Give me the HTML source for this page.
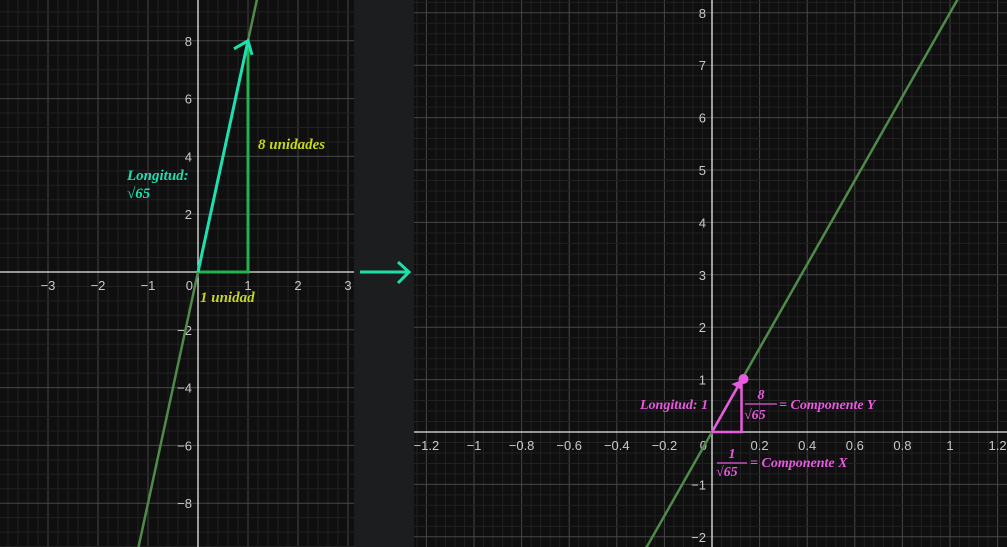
<!DOCTYPE html>
<html><head><meta charset="utf-8"><style>
html,body{margin:0;padding:0;background:#1c1d1f;overflow:hidden;width:1007px;height:547px}
svg{display:block;position:absolute;left:0;top:0}
text{font-family:"Liberation Sans",sans-serif}
.ser{font-family:"Liberation Serif",serif;font-style:italic;font-weight:bold}
</style></head><body>
<svg id="s" width="1007" height="547">
<rect x="0" y="0" width="1007" height="547" fill="#1c1d1f"/>
<g id="L"></g>
<g id="R"></g>
<g>
<line x1="360" y1="272" x2="409" y2="272" stroke="#1de0a8" stroke-width="3"/>
<polyline points="398,262 409,272 398,283" fill="none" stroke="#1de0a8" stroke-width="3"/>
</g>
</svg>
<script>
// left graph data
const leftXTicks=[-3,-2,-1,1,2,3];
const leftYTicks=[-8,-6,-4,-2,2,4,6,8];
const leftSlope=[8];
const leftVector=[1,8];
// right graph data
const rightXTicks=[-1.2,-1,-0.8,-0.6,-0.4,-0.2,0.2,0.4,0.6,0.8,1,1.2];
const rightYTicks=[-2,-1,1,2,3,4,5,6,7,8];
const rightSlope=[8];
const rightVector=[1/Math.sqrt(65),8/Math.sqrt(65)];

const NS="http://www.w3.org/2000/svg";
function mk(p,t,a,txt){const e=document.createElementNS(NS,t);for(const k in a)e.setAttribute(k,a[k]);if(txt!==undefined)e.textContent=txt;p.appendChild(e);return e;}
function fmt(v){return (v<0?'\u2212':'')+String(Math.abs(+v.toFixed(2)));}

function graph(g,x0,x1,ox,oy,ux,uy,xmaj,ymaj,xsub,ysub,xt,yt,slope){
  mk(g,'rect',{x:x0,y:0,width:x1-x0,height:547,fill:'#0f0f0f'});
  const X=v=>ox+v*ux, Y=v=>oy-v*uy;
  const xmin=(x0-ox)/ux,xmax=(x1-ox)/ux,ymin=-(547-oy)/uy,ymax=oy/uy;
  for(let k=Math.ceil(xmin/xmaj*xsub);k<=xmax/xmaj*xsub;k++){const x=X(k*xmaj/xsub);const maj=k%xsub===0;
    mk(g,'line',{x1:x,x2:x,y1:0,y2:547,stroke:maj?'#464646':'#212121','stroke-width':1});}
  for(let k=Math.ceil(ymin/ymaj*ysub);k<=ymax/ymaj*ysub;k++){const y=Y(k*ymaj/ysub);const maj=k%ysub===0;
    mk(g,'line',{x1:x0,x2:x1,y1:y,y2:y,stroke:maj?'#464646':'#212121','stroke-width':1});}
  mk(g,'line',{x1:x0,x2:x1,y1:oy,y2:oy,stroke:'#e8e8e8','stroke-width':1.3});
  mk(g,'line',{x1:ox,x2:ox,y1:0,y2:547,stroke:'#e8e8e8','stroke-width':1.3});
  xt.forEach(v=>{const t=mk(g,'text',{x:X(v),y:oy+18,'font-size':13,fill:'#c8c8c8','text-anchor':'middle'},fmt(v));
    
    });
  yt.forEach(v=>{const t=mk(g,'text',{x:ox-6,y:Y(v)+5,'font-size':13,fill:'#c8c8c8','text-anchor':'end'},fmt(v));
    
    });
  mk(g,'text',{x:ox-5,y:oy+18,'font-size':13,fill:'#c8c8c8','text-anchor':'end'},'0');
  const ya=ymax+1,yb=ymin-1;
  const ln=mk(g,'line',{x1:X(yb/slope[0]),y1:Y(yb),x2:X(ya/slope[0]),y2:Y(ya),stroke:'#4f8a4a','stroke-width':2.5});
  
  
  return {X,Y};
}
const L=document.getElementById('L'),R=document.getElementById('R');
const a=graph(L,0,354,198,272,50,28.9,1,2,5,4,leftXTicks,leftYTicks,leftSlope);
const vx=a.X(leftVector[0]),vy=a.Y(leftVector[1]),O=[a.X(0),a.Y(0)];
mk(L,'polyline',{points:`${O[0]},${O[1]} ${vx},${O[1]} ${vx},${vy}`,fill:'none',stroke:'#22b24c','stroke-width':3});
let v=mk(L,'line',{x1:O[0],y1:O[1],x2:vx,y2:vy,stroke:'#1de0b0','stroke-width':3});


mk(L,'polyline',{points:`${vx-14},${vy+8} ${vx},${vy} ${vx+4},${vy+14}`,fill:'none',stroke:'#1de0b0','stroke-width':3});
mk(L,'text',{x:258,y:149,'font-size':15,fill:'#c8d81a',class:'ser','font-weight':'normal'},'8 unidades');
mk(L,'text',{x:200,y:302,'font-size':15,fill:'#c8d81a',class:'ser','font-weight':'normal'},'1 unidad');
mk(L,'text',{x:127,y:180,'font-size':15,fill:'#1de0b0',class:'ser'},'Longitud:');
mk(L,'text',{x:127,y:198,'font-size':15,fill:'#1de0b0',class:'ser'},'\u221A65');

const b=graph(R,414,1007,712,432,238,52.4,0.2,1,5,5,rightXTicks,rightYTicks,rightSlope);
const wx=b.X(rightVector[0]),wy=b.Y(rightVector[1]),P=[b.X(0),b.Y(0)];
mk(R,'polyline',{points:`${P[0]},${P[1]} ${wx},${P[1]} ${wx},${wy}`,fill:'none',stroke:'#e85ae0','stroke-width':2.5});
v=mk(R,'line',{x1:P[0],y1:P[1],x2:wx,y2:wy,stroke:'#e85ae0','stroke-width':2.5});


mk(R,'polygon',{points:`${wx},${wy} ${wx-10},${wy+4} ${wx},${wy+10}`,fill:'#e85ae0'});
mk(R,'circle',{cx:wx+2,cy:wy-1,r:5,fill:'#e85ae0'});
const pk='#e85ae0';
mk(R,'text',{x:640,y:409,'font-size':14,fill:pk,class:'ser'},'Longitud: 1');
mk(R,'text',{x:761,y:399,'font-size':14,fill:pk,class:'ser','text-anchor':'middle'},'8');
mk(R,'line',{x1:745,x2:777,y1:404,y2:404,stroke:pk,'stroke-width':1.3});
mk(R,'text',{x:744,y:419,'font-size':14,fill:pk,class:'ser'},'\u221A65');
mk(R,'text',{x:779,y:409,'font-size':14,fill:pk,class:'ser'},'= Componente Y');
mk(R,'text',{x:732,y:458,'font-size':14,fill:pk,class:'ser','text-anchor':'middle'},'1');
mk(R,'line',{x1:717,x2:747,y1:463,y2:463,stroke:pk,'stroke-width':1.3});
mk(R,'text',{x:716,y:476,'font-size':14,fill:pk,class:'ser'},'\u221A65');
mk(R,'text',{x:750,y:467,'font-size':14,fill:pk,class:'ser'},'= Componente X');
</script>
</body></html>
